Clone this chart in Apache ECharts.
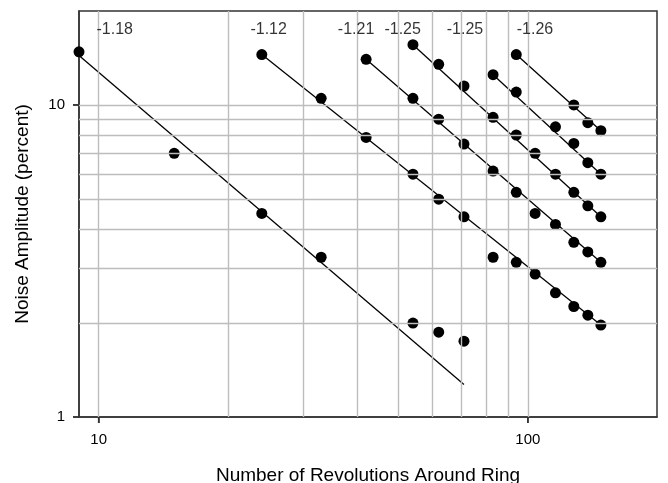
<!DOCTYPE html>
<html>
<head>
<meta charset="utf-8">
<script src="https://cdn.jsdelivr.net/npm/echarts@6/dist/echarts.min.js"></script>
<style>
  html, body { margin: 0; padding: 0; background: #fff; }
  #chart { width: 668px; height: 483px; }
</style>
</head>
<body>
<div id="chart"></div>
<script>
// Measured noise amplitude (percent) against number of revolutions, six runs
const rev1 = [9, 15, 24, 33, 54, 62, 71];
const amp1 = [14.8, 7.0, 4.49, 3.25, 2.0, 1.87, 1.75];

const rev2 = [24, 33, 42, 54, 62, 71, 83, 94, 104, 116, 128, 138, 148];
const amp2 = [14.5, 10.5, 7.87, 6.0, 4.99, 4.38, 3.25, 3.13, 2.87, 2.50, 2.26, 2.12, 1.97];

const rev3 = [42, 54, 62, 71, 83, 94, 104, 116, 128, 138, 148];
const amp3 = [14.0, 10.5, 9.0, 7.49, 6.14, 5.25, 4.49, 4.14, 3.63, 3.38, 3.13];

const rev4 = [54, 62, 71, 83, 94, 104, 116, 128, 138, 148];
const amp4 = [15.6, 13.5, 11.5, 9.13, 8.01, 7.0, 6.0, 5.25, 4.75, 4.38];

const rev5 = [83, 94, 116, 128, 138, 148];
const amp5 = [12.5, 11.0, 8.51, 7.53, 6.53, 6.0];

const rev6 = [94, 128, 138, 148];
const amp6 = [14.5, 10.0, 8.77, 8.27];

// Power-law fit lines: end points (revolutions, amplitude)
const fitRev = [[9, 71], [24, 148], [42, 148], [54, 148], [83, 148], [94, 148]];
const fitAmp = [[14.4, 1.27], [14.5, 1.97], [14.0, 3.13], [15.6, 4.38], [12.5, 6.0], [14.5, 8.27]];

// Fitted slopes written along the top
const slopeText = ['-1.18', '-1.12', '-1.21', '-1.25', '-1.25', '-1.26'];
const slopeRev = [10.9, 24.9, 39.8, 51.1, 71.4, 103.9];
const slopeAmp = 17.5;

// Axis range, ticks and grid lines
const xMin = 9, xMax = 200;
const yMin = 1, yMax = 20;
const xTicks = [10, 100];
const yTicks = [1, 10];
const xGrid = [10, 20, 30, 40, 50, 60, 70, 80, 90, 100];
const yGrid = [2, 3, 4, 5, 6, 7, 8, 9, 10];

const revs = [rev1, rev2, rev3, rev4, rev5, rev6];
const amps = [amp1, amp2, amp3, amp4, amp5, amp6];

const FONT = '"Liberation Sans", Arial, sans-serif';
const AXIS_COLOR = '#333';
const TICK_LEN = 6;
const chart = echarts.init(document.getElementById('chart'), null, { renderer: 'canvas' });

const series = [];

// grid lines
series.push({
  type: 'line',
  data: [],
  silent: true,
  z: 1,
  markLine: {
    silent: true,
    symbol: ['none', 'none'],
    label: { show: false },
    animation: false,
    lineStyle: { color: '#bdbdbd', width: 1.4, type: 'solid' },
    data: xGrid.map(v => ({ xAxis: v })).concat(yGrid.map(v => ({ yAxis: v })))
  }
});

// fit lines
fitRev.forEach((r, i) => {
  series.push({
    type: 'line',
    z: 3,
    symbol: 'none',
    silent: true,
    lineStyle: { color: '#000', width: 1.3, opacity: 1 },
    data: [[r[0], fitAmp[i][0]], [r[1], fitAmp[i][1]]]
  });
});

// measured points
revs.forEach((r, i) => {
  series.push({
    type: 'scatter',
    z: 4,
    symbol: 'circle',
    symbolSize: 11,
    itemStyle: { color: '#000', opacity: 1 },
    data: r.map((x, j) => [x, amps[i][j]])
  });
});

// slope labels
series.push({
  type: 'scatter',
  z: 5,
  symbolSize: 0,
  silent: true,
  data: slopeRev.map(x => [x, slopeAmp]),
  label: {
    show: true,
    position: 'inside',
    color: '#000',
    fontFamily: FONT,
    fontSize: 16,
    formatter: p => slopeText[p.dataIndex]
  }
});

// outward tick marks at the decades, drawn on their own layer
function tickItem(horizontal) {
  return function (params, api) {
    const p = api.coord([api.value(0), api.value(1)]);
    const shape = horizontal
      ? { x1: p[0] - TICK_LEN, y1: p[1], x2: p[0], y2: p[1] }
      : { x1: p[0], y1: p[1], x2: p[0], y2: p[1] + TICK_LEN };
    return { type: 'line', shape: shape, style: { stroke: AXIS_COLOR, lineWidth: 1.5 } };
  };
}
series.push({
  type: 'custom', silent: true, zlevel: 1, clip: false,
  data: xTicks.map(v => [v, yMin]),
  renderItem: tickItem(false)
});
series.push({
  type: 'custom', silent: true, zlevel: 1, clip: false,
  data: yTicks.map(v => [xMin, v]),
  renderItem: tickItem(true)
});

chart.setOption({
  animation: false,
  backgroundColor: '#fff',
  grid: {
    left: 79, top: 11, right: 11, bottom: 66,
    outerBoundsMode: 'none',
    show: true, borderColor: AXIS_COLOR, borderWidth: 1.5, backgroundColor: 'transparent'
  },
  xAxis: {
    type: 'log',
    min: xMin,
    max: xMax,
    name: 'Number of Revolutions Around Ring',
    nameLocation: 'middle',
    nameGap: 49,
    nameTextStyle: { fontFamily: FONT, fontSize: 19, color: '#000' },
    axisLine: { show: true, lineStyle: { color: AXIS_COLOR, width: 1.5 } },
    axisTick: { show: true, length: TICK_LEN, customValues: xTicks, lineStyle: { color: AXIS_COLOR, width: 1.5 } },
    axisLabel: { customValues: xTicks, margin: 15, fontFamily: FONT, fontSize: 15, color: '#000' },
    splitLine: { show: false }
  },
  yAxis: {
    type: 'log',
    min: yMin,
    max: yMax,
    name: 'Noise Amplitude (percent)',
    nameLocation: 'middle',
    nameGap: 47,
    nameTextStyle: { fontFamily: FONT, fontSize: 19, color: '#000' },
    axisLine: { show: true, lineStyle: { color: AXIS_COLOR, width: 1.5 } },
    axisTick: { show: true, length: TICK_LEN, customValues: yTicks, lineStyle: { color: AXIS_COLOR, width: 1.5 } },
    axisLabel: { customValues: yTicks, margin: 14, fontFamily: FONT, fontSize: 15, color: '#000' },
    splitLine: { show: false }
  },
  series: series
});
</script>
</body>
</html>
